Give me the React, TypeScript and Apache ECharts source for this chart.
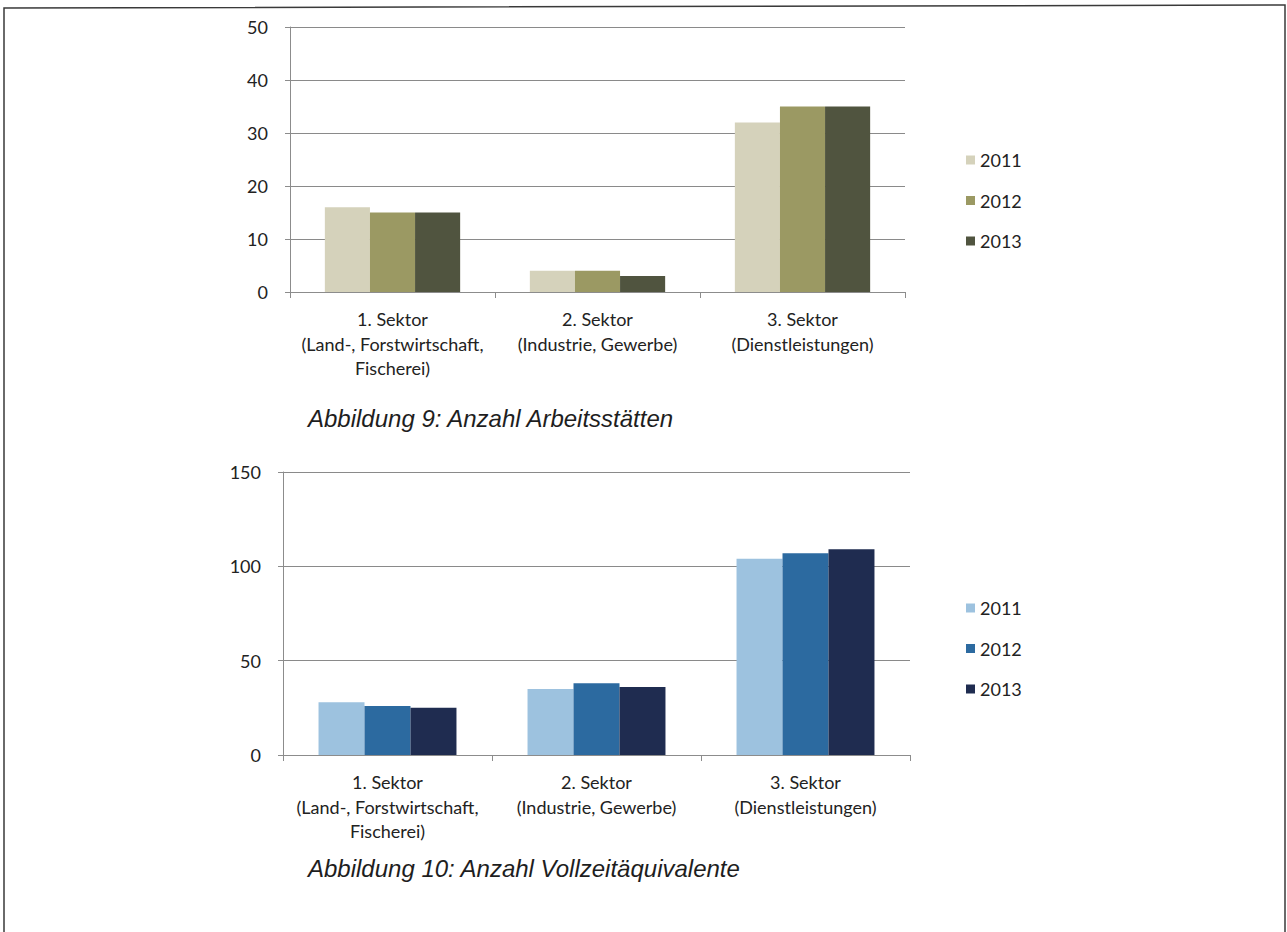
import React, { useEffect, useRef } from "react";
import * as echarts from "echarts";

const categories = [
  "1. Sektor\n(Land-, Forstwirtschaft,\nFischerei)",
  "2. Sektor\n(Industrie, Gewerbe)",
  "3. Sektor\n(Dienstleistungen)",
];
const years = ["2011", "2012", "2013"];
const arbeitsstaetten2011 = [16, 4, 32];
const arbeitsstaetten2012 = [15, 4, 35];
const arbeitsstaetten2013 = [15, 3, 35];
const vze2011 = [28, 35, 104];
const vze2012 = [26, 38, 107];
const vze2013 = [25, 36, 109];
const yTicks1 = { min: 0, max: 50, interval: 10 };
const yTicks2 = { min: 0, max: 150, interval: 50 };
const caption1 = "Abbildung 9: Anzahl Arbeitsstätten";
const caption2 = "Abbildung 10: Anzahl Vollzeitäquivalente";

const greenColors = ["#d5d2bb", "#9b9963", "#50543f"];
const blueColors = ["#9dc2df", "#2c6aa0", "#1f2c50"];

const FONT = "Lato";
const axisGray = "#8c8c8c";

export default function App() {
  const ref = useRef<HTMLDivElement>(null);
  useEffect(() => {
    if (!ref.current) return;
    const chart = echarts.init(ref.current, undefined, { renderer: "svg" });
    const xAxisBase = (gridIndex: number) => ({
      type: "category" as const,
      gridIndex,
      data: categories,
      axisLine: { lineStyle: { color: axisGray, width: 1 } },
      axisTick: { show: true, length: 6, lineStyle: { color: axisGray } },
      axisLabel: {
        color: "#222",
        fontFamily: FONT,
        fontSize: 18,
        lineHeight: 24.5,
        margin: 15,
        interval: 0,
      },
    });
    const yAxisBase = (gridIndex: number, t: { min: number; max: number; interval: number }) => ({
      type: "value" as const,
      gridIndex,
      min: t.min,
      max: t.max,
      interval: t.interval,
      axisLine: { show: true, lineStyle: { color: axisGray, width: 1 } },
      axisTick: { show: true, length: 5, lineStyle: { color: axisGray } },
      axisLabel: { color: "#222", fontFamily: FONT, fontSize: 18, margin: 22 },
      splitLine: { show: true, lineStyle: { color: "#8a8a8a", width: 1 } },
    });
    const barSeries = (name: string, data: number[], color: string, idx: number) => ({
      type: "bar" as const,
      name,
      data,
      xAxisIndex: idx,
      yAxisIndex: idx,
      barGap: "0%",
      barCategoryGap: "34%",
      itemStyle: { color },
    });
    const legendBase = (top: number, colors: string[]) => ({
      orient: "vertical" as const,
      left: 961,
      top,
      icon: "rect",
      itemWidth: 9,
      itemHeight: 9,
      itemGap: 22.5,
      selectedMode: false,
      textStyle: { color: "#222", fontFamily: FONT, fontSize: 18 },
      data: years.map((y, i) => ({ name: y, itemStyle: { color: colors[i] } })),
    });
    chart.setOption({
      animation: false,
      backgroundColor: "#ffffff",
      grid: [
        { left: 290, top: 27, width: 615, height: 265 },
        { left: 283, top: 472, width: 627, height: 283 },
      ],
      xAxis: [xAxisBase(0), xAxisBase(1)],
      yAxis: [yAxisBase(0, yTicks1), yAxisBase(1, yTicks2)],
      legend: [legendBase(146, greenColors), legendBase(594, blueColors)],
      series: [
        barSeries(years[0], arbeitsstaetten2011, greenColors[0], 0),
        barSeries(years[1], arbeitsstaetten2012, greenColors[1], 0),
        barSeries(years[2], arbeitsstaetten2013, greenColors[2], 0),
        barSeries(years[0], vze2011, blueColors[0], 1),
        barSeries(years[1], vze2012, blueColors[1], 1),
        barSeries(years[2], vze2013, blueColors[2], 1),
      ],
      graphic: [
        {
          type: "polyline",
          shape: { points: [[4, 945], [4, 8], [1285, 5], [1285, 945]] },
          style: { stroke: "#3a3a3a", lineWidth: 1.5, fill: "none" },
          silent: true,
        },
        {
          type: "text",
          left: 308,
          top: 406,
          style: {
            text: caption1,
            fill: "#1e1e1e",
            font: "italic 24px 'Liberation Sans', Arial, sans-serif",
          },
        },
        {
          type: "text",
          left: 308,
          top: 856,
          style: {
            text: caption2,
            fill: "#1e1e1e",
            font: "italic 24px 'Liberation Sans', Arial, sans-serif",
          },
        },
      ],
    });
    return () => chart.dispose();
  }, []);
  return (
    <div
      ref={ref}
      style={{ position: "fixed", left: 0, top: 0, width: 1287, height: 932, background: "#fff" }}
    />
  );
}
